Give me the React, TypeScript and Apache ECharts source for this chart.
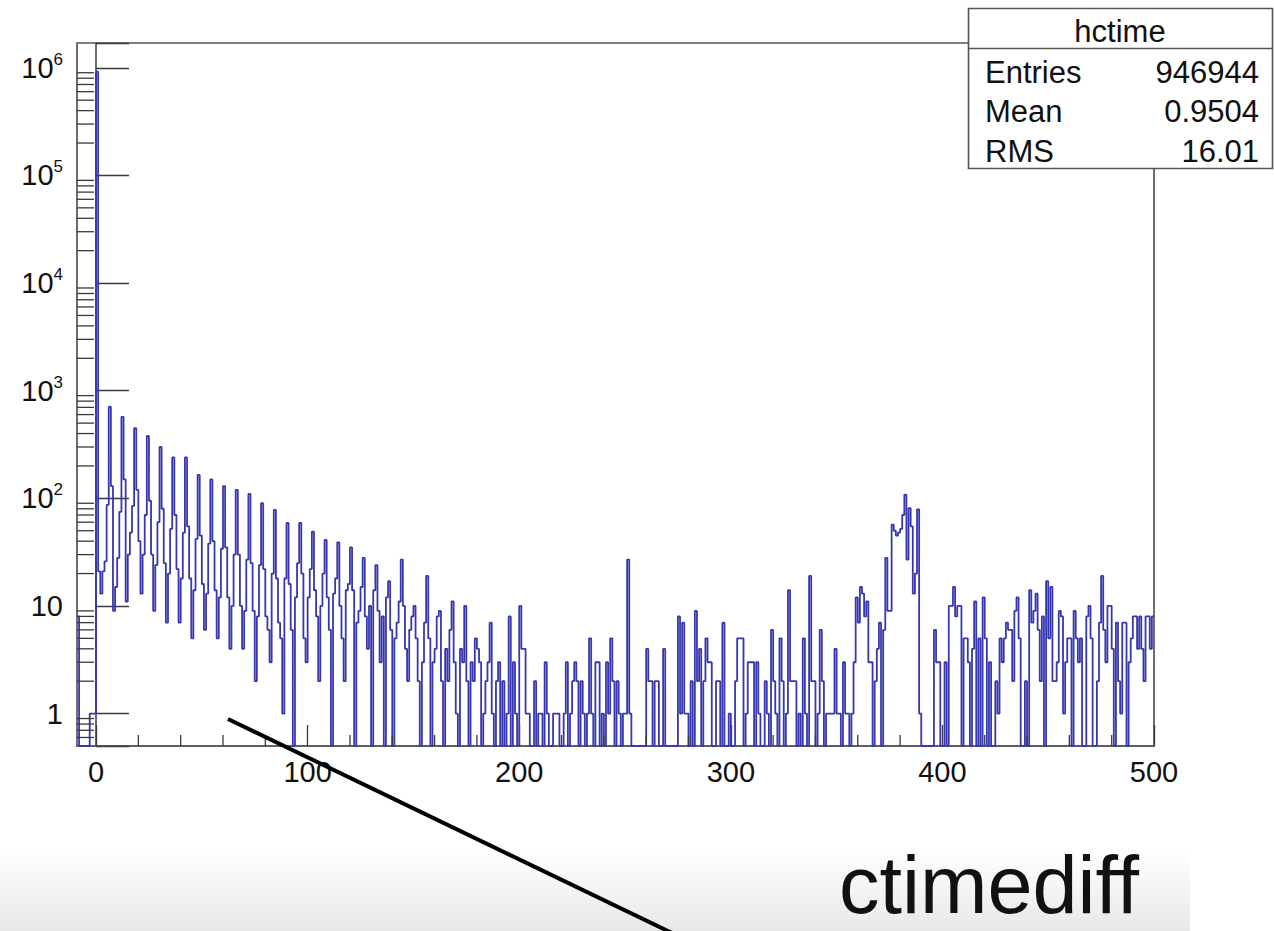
import { useEffect, useRef } from "react";
import * as echarts from "echarts";

// Histogram "hctime": unit-wide bins from -9 to 500, drawn on a log scale
const BIN_LOW = -9;
const BIN_HIGH = 500;
const Y_FLOOR = 0.5;
const Y_CEIL = 1.7e6;
const FONT = "'Liberation Sans', Arial, Helvetica, sans-serif";
const LINE_COLOR = "#3737b0";
const FRAME_COLOR = "#555555";

// Bin contents, in order of bin low edge
const binsBelowZero = [8, 0, 0, 0, 0, 0, 1, 1, 1]; // -9 .. -1
const binZero = [920000]; // 0
const bins1to95 = [
  21, 13, 21, 26, 87,
  710, 130, 9, 15, 28, 75,
  570, 150, 11, 30, 48, 85,
  450, 120, 40, 13, 30, 70,
  380, 95, 30, 9, 24, 60,
  300, 80, 25, 7, 20, 52,
  240, 70, 22, 7, 18, 48,
  240, 55, 18, 5, 14, 42,
  165, 45, 16, 6, 13, 38,
  150, 40, 14, 5, 12, 34,
  130, 35, 12, 4, 10, 30,
  120, 30, 10, 4, 9, 27,
  110, 25, 9, 2, 8, 24,
  90, 22, 8, 6, 3, 20,
  78, 18, 7, 5, 1, 18,
  59, 16, 6, 0, 12, 25,
];
const bins96to199 = [
  59, 20, 5, 3, 12, 22,
  49, 14, 8, 2, 10, 20,
  41, 12, 6, 0, 13, 18,
  39, 10, 5, 2, 14, 16,
  35, 14, 0, 7, 9, 15,
  28, 8, 4, 10, 0, 14,
  24, 9, 3, 8, 0, 12,
  17, 6, 0, 5, 7, 11,
  27, 10, 4, 2, 6, 8,
  10, 5, 2, 0, 3, 7,
  19, 5, 0, 3, 4, 8,
  9, 2, 0, 4, 2, 6,
  11, 3, 1, 0, 4, 3,
  10, 2, 0, 3, 2, 5,
  4, 3, 0, 1, 2, 3,
  7, 1, 0, 2, 3, 0,
  2, 0, 1, 8, 0, 3, 1, 0,
];
const bins200to299 = [
  10, 4, 4, 1, 1, 0, 0, 2, 0, 1,
  1, 0, 3, 1, 0, 0, 1, 1, 1, 0,
  0, 1, 3, 0, 1, 2, 3, 2, 0, 2,
  1, 0, 1, 5, 1, 0, 3, 3, 0, 1,
  0, 3, 1, 5, 2, 0, 2, 1, 0, 1,
  1, 27, 1, 0, 0, 0, 0, 0, 0, 0,
  4, 2, 2, 0, 2, 2, 0, 0, 4, 0,
  0, 0, 0, 0, 0, 8, 1, 7, 1, 1,
  0, 2, 0, 9, 2, 4, 0, 2, 5, 3,
  3, 0, 0, 2, 2, 0, 7, 0, 0, 1,
];
const bins300to399 = [
  0, 0, 2, 5, 5, 5, 0, 1, 3, 3,
  3, 0, 3, 1, 0, 0, 2, 1, 0, 6,
  2, 1, 0, 5, 2, 0, 1, 14, 2, 2,
  2, 0, 1, 0, 5, 1, 0, 19, 2, 2,
  0, 1, 6, 2, 0, 1, 1, 1, 1, 4,
  1, 1, 0, 3, 1, 1, 0, 1, 3, 12,
  7, 15, 13, 8, 11, 3, 3, 0, 2, 4,
  7, 0, 6, 28, 9, 9, 57, 50, 45, 48,
  52, 70, 108, 27, 81, 55, 13, 20, 79, 1,
  0, 0, 0, 0, 0, 0, 6, 3, 3, 0,
];
const bins400to499 = [
  0, 3, 0, 10, 10, 15, 8, 10, 10, 0,
  5, 5, 3, 0, 4, 11, 0, 5, 0, 12,
  5, 0, 3, 0, 0, 2, 1, 5, 3, 5,
  7, 6, 6, 2, 9, 12, 5, 0, 0, 2,
  0, 14, 7, 9, 13, 6, 2, 8, 0, 17,
  5, 15, 2, 2, 3, 9, 8, 1, 3, 5,
  5, 0, 9, 5, 3, 5, 0, 0, 8, 10,
  5, 0, 0, 2, 7, 19, 6, 3, 10, 10,
  4, 0, 7, 2, 1, 7, 7, 0, 3, 5,
  8, 8, 4, 8, 4, 2, 8, 8, 4, 8,
];

const binCounts = [
  ...binsBelowZero,
  ...binZero,
  ...bins1to95,
  ...bins96to199,
  ...bins200to299,
  ...bins300to399,
  ...bins400to499,
];

// Axis decorations
const xMajorTicks = [0, 100, 200, 300, 400, 500];
const xMinorTicks = [20, 40, 60, 80, 120, 140, 160, 180, 220, 240, 260, 280, 320, 340, 360, 380, 420, 440, 460, 480];
const yDecades = [1, 10, 100, 1000, 10000, 100000, 1000000];
const yMinorMultipliers = [2, 3, 4, 5, 6, 7, 8, 9];
const yMinorBelowOne = [0.6, 0.7, 0.8, 0.9];

// Statistics box
const statsTitle = "hctime";
const statsNames = ["Entries", "Mean", "RMS"];
const statsValues = ["946944", "0.9504", "16.01"];
const canvasCaption = "ctimediff";

function buildOption() {
  // Step outline: one point per bin centre, empty bins fall to the frame floor
  const histData: number[][] = binCounts.map((c, i) => [BIN_LOW + i + 0.5, c > 0 ? c : Y_FLOOR]);
  const first = binCounts[0] > 0 ? binCounts[0] : Y_FLOOR;
  const last = binCounts[binCounts.length - 1] > 0 ? binCounts[binCounts.length - 1] : Y_FLOOR;
  histData.unshift([BIN_LOW, first]);
  histData.push([BIN_HIGH, last]);

  const yMinor = [
    ...yMinorBelowOne,
    ...yDecades.flatMap((d) => yMinorMultipliers.map((m) => m * d)),
  ].filter((v) => v < Y_CEIL);
  const minorTickData: number[][] = [
    ...yMinor.map((v) => [BIN_LOW, v, 0]),
    ...xMinorTicks.map((x) => [x, Y_FLOOR, 1]),
  ];

  const statsFont = `31px ${FONT}`;
  const statsRowY = [72, 111, 151];
  const statsGraphics: any[] = [
    {
      type: "rect",
      z: 50,
      shape: { x: 968.5, y: 8.5, width: 304, height: 160 },
      style: { fill: "#ffffff", stroke: FRAME_COLOR, lineWidth: 1.6 },
    },
    {
      type: "line",
      z: 51,
      shape: { x1: 968.5, y1: 48.5, x2: 1272.5, y2: 48.5 },
      style: { stroke: FRAME_COLOR, lineWidth: 1.6 },
    },
    {
      type: "text",
      z: 52,
      x: 1120,
      y: 31,
      style: { text: statsTitle, font: statsFont, fill: "#111", align: "center", verticalAlign: "middle" },
    },
  ];
  statsNames.forEach((name, i) => {
    statsGraphics.push({
      type: "text",
      z: 52,
      x: 985,
      y: statsRowY[i],
      style: { text: name, font: statsFont, fill: "#111", align: "left", verticalAlign: "middle" },
    });
    statsGraphics.push({
      type: "text",
      z: 52,
      x: 1259,
      y: statsRowY[i],
      style: { text: statsValues[i], font: statsFont, fill: "#111", align: "right", verticalAlign: "middle" },
    });
  });

  return {
    animation: false,
    backgroundColor: "#ffffff",
    grid: {
      left: 77,
      top: 43,
      width: 1077,
      height: 703,
      show: true,
      borderColor: FRAME_COLOR,
      borderWidth: 1.7,
      backgroundColor: "transparent",
    },
    xAxis: {
      type: "value",
      min: BIN_LOW,
      max: BIN_HIGH,
      axisLine: { show: true, lineStyle: { color: FRAME_COLOR, width: 1.7 } },
      axisTick: { show: true, inside: true, length: 21, customValues: xMajorTicks, lineStyle: { color: "#3a3a3a", width: 1.3 } },
      axisLabel: { customValues: xMajorTicks, fontSize: 29, color: "#111", fontFamily: FONT, margin: 11 },
      splitLine: { show: false },
    },
    yAxis: {
      type: "log",
      logBase: 10,
      min: Y_FLOOR,
      max: Y_CEIL,
      axisLine: { show: true, lineStyle: { color: FRAME_COLOR, width: 1.7 } },
      axisTick: { show: true, inside: true, length: 33, lineStyle: { color: "#3a3a3a", width: 1.3 } },
      axisLabel: {
        fontSize: 29,
        lineHeight: 34,
        color: "#111",
        fontFamily: FONT,
        margin: 14,
        formatter: (v: number) => {
          const e = Math.log10(v);
          const r = Math.round(e);
          if (Math.abs(e - r) > 1e-6) return "";
          if (r === 0) return "1";
          if (r === 1) return "10";
          return `10{sup|${r}}`;
        },
        rich: {
          sup: { fontSize: 17, lineHeight: 34, verticalAlign: "top", color: "#111", fontFamily: FONT },
        },
      },
      splitLine: { show: false },
    },
    series: [
      {
        name: statsTitle,
        type: "line",
        step: "middle",
        data: histData,
        showSymbol: false,
        symbol: "none",
        clip: true,
        lineStyle: { color: LINE_COLOR, width: 1.8 },
        z: 2,
      },
      {
        type: "custom",
        silent: true,
        z: 3,
        data: minorTickData,
        renderItem: (_params: any, api: any) => {
          const kind = api.value(2);
          if (kind === 0) {
            const p = api.coord([BIN_LOW, api.value(1)]);
            return {
              type: "line",
              shape: { x1: p[0], y1: p[1], x2: p[0] + 17, y2: p[1] },
              style: { stroke: "#3a3a3a", lineWidth: 1.3 },
            };
          }
          const p = api.coord([api.value(0), Y_FLOOR]);
          return {
            type: "line",
            shape: { x1: p[0], y1: p[1], x2: p[0], y2: p[1] - 11 },
            style: { stroke: "#3a3a3a", lineWidth: 1.3 },
          };
        },
      },
    ],
    graphic: [
      {
        type: "rect",
        z: 1,
        shape: { x: 0, y: 850, width: 1190, height: 81 },
        style: {
          fill: new echarts.graphic.LinearGradient(0, 0, 0, 1, [
            { offset: 0, color: "#ffffff" },
            { offset: 1, color: "#e8e8e8" },
          ]),
        },
      },
      {
        type: "text",
        z: 5,
        x: 839,
        y: 885,
        style: {
          text: canvasCaption,
          font: `81px ${FONT}`,
          fill: "#111",
          align: "left",
          verticalAlign: "middle",
        },
      },
      ...statsGraphics,
      {
        type: "line",
        z: 100,
        shape: { x1: 228, y1: 719, x2: 672, y2: 933 },
        style: { stroke: "#000", lineWidth: 4 },
      },
    ],
  };
}

export default function App() {
  const ref = useRef<HTMLDivElement>(null);
  useEffect(() => {
    if (!ref.current) return;
    const chart = echarts.init(ref.current, undefined, { renderer: "svg" });
    chart.setOption(buildOption() as any);
    return () => chart.dispose();
  }, []);
  return (
    <div
      ref={ref}
      style={{ position: "absolute", left: 0, top: 0, width: 1274, height: 931, background: "#fff" }}
    />
  );
}
